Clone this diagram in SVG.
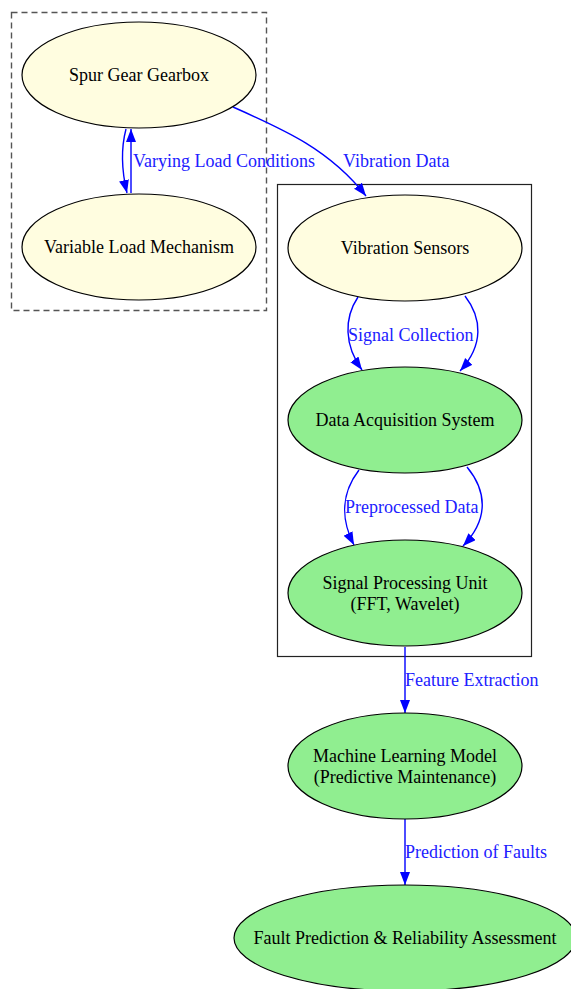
<svg xmlns="http://www.w3.org/2000/svg" width="571" height="989" viewBox="0 0 571 989">
<style>
.y{fill:#fffde0;stroke:#000;stroke-width:1.2}
.g{fill:#90ee90;stroke:#000;stroke-width:1.2}
.t{font-family:"Liberation Serif","Times New Roman",serif;font-size:18px;fill:#000;text-anchor:middle}
.l{font-family:"Liberation Serif","Times New Roman",serif;font-size:18px;fill:#2020ff}
.e{fill:none;stroke:#0000ff;stroke-width:1.4}
</style>
<defs>
<marker id="a" markerUnits="userSpaceOnUse" markerWidth="14" markerHeight="12" refX="13" refY="5" orient="auto">
<path d="M0,0 L13,5 L0,10 z" fill="#0000ff"/>
</marker>
</defs>
<rect width="571" height="989" fill="#fff"/>
<g id="cluster_mech">
<rect x="11.5" y="12.5" width="255" height="298" fill="none" stroke="#555" stroke-width="1.4" stroke-dasharray="6,4"/>
</g>
<g id="cluster_acq">
<rect x="277.5" y="184.5" width="254" height="472" fill="none" stroke="#222" stroke-width="1.2"/>
</g>
<g id="connectors">
<path class="e" d="M126,129 C121,148 121,168 127,193" marker-end="url(#a)"/>
<path class="e" d="M131,193 L131,129" marker-end="url(#a)"/>
<text class="l" x="133" y="167">Varying Load Conditions</text>
<path class="e" d="M233,107 C285,130 330,150 366,196" marker-end="url(#a)"/>
<text class="l" x="343" y="167">Vibration Data</text>
<path class="e" d="M358,297 C344,318 344,345 362,370" marker-end="url(#a)"/>
<path class="e" d="M465,296 C482,318 484,345 460,371" marker-end="url(#a)"/>
<text class="l" x="348" y="341">Signal Collection</text>
<path class="e" d="M359,470 C342,492 340,518 354,545" marker-end="url(#a)"/>
<path class="e" d="M467,467 C486,490 490,518 463,546" marker-end="url(#a)"/>
<text class="l" x="345" y="513">Preprocessed Data</text>
<path class="e" d="M405,647 L405,713" marker-end="url(#a)"/>
<text class="l" x="405" y="686">Feature Extraction</text>
<path class="e" d="M405,819 L405,885" marker-end="url(#a)"/>
<text class="l" x="405" y="858">Prediction of Faults</text>
</g>
<g id="spur">
<ellipse class="y" cx="139" cy="75" rx="117" ry="53"/>
<text class="t" x="139" y="81">Spur Gear Gearbox</text>
</g>
<g id="varload">
<ellipse class="y" cx="139" cy="247" rx="117" ry="53"/>
<text class="t" x="139" y="253">Variable Load Mechanism</text>
</g>
<g id="sensors">
<ellipse class="y" cx="405" cy="248" rx="117" ry="53"/>
<text class="t" x="405" y="254">Vibration Sensors</text>
</g>
<g id="daq">
<ellipse class="g" cx="405" cy="420" rx="117" ry="53"/>
<text class="t" x="405" y="426">Data Acquisition System</text>
</g>
<g id="spu">
<ellipse class="g" cx="405" cy="593" rx="117" ry="53"/>
<text class="t" x="405" y="589">Signal Processing Unit</text>
<text class="t" x="405" y="610">(FFT, Wavelet)</text>
</g>
<g id="ml">
<ellipse class="g" cx="405" cy="766" rx="117" ry="53"/>
<text class="t" x="405" y="762">Machine Learning Model</text>
<text class="t" x="405" y="783">(Predictive Maintenance)</text>
</g>
<g id="fault">
<ellipse class="g" cx="405" cy="938" rx="171" ry="53"/>
<text class="t" x="405" y="944">Fault Prediction &amp; Reliability Assessment</text>
</g>
</svg>
